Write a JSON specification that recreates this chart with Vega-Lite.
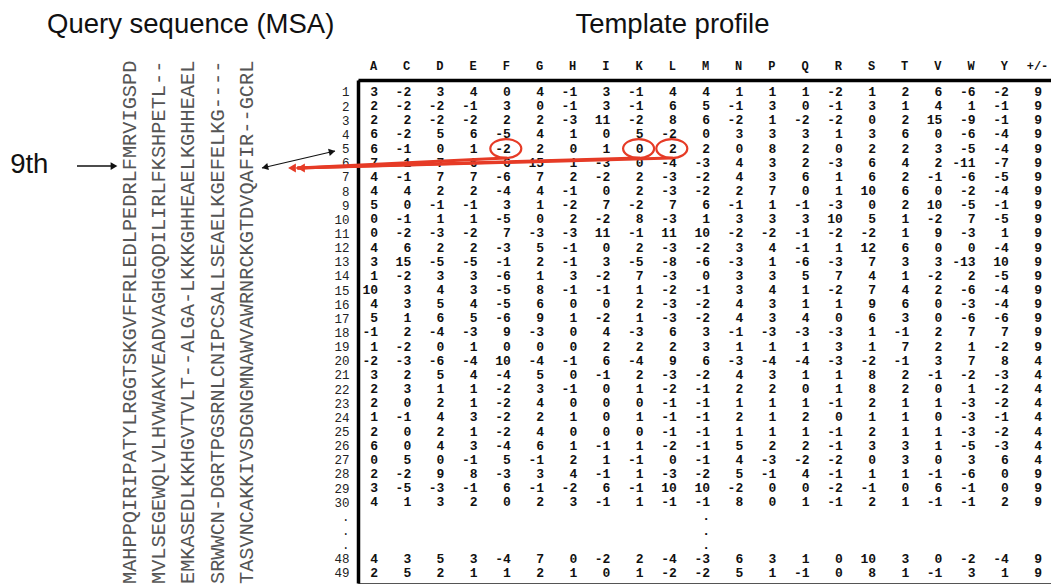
{
  "$schema": "https://vega.github.io/schema/vega-lite/v6.json",
  "width": 694,
  "height": 503,
  "autosize": {"type": "none"},
  "padding": {"left": 358, "top": 80, "right": 0, "bottom": 4},
  "background": "white",
  "config": {"view": {"stroke": "#555", "strokeWidth": 1}},
  "resolve": {"scale": {"x": "independent", "y": "independent"}, "axis": {"x": "independent", "y": "independent"}},
  "layer": [
    {
      "encoding": {
        "x": {
          "field": "aa", "type": "nominal",
          "scale": {"type": "point", "domain": ["A","C","D","E","F","G","H","I","K","L","M","N","P","Q","R","S","T","V","W","Y","pm"], "padding": 0.452, "align": 0.5},
          "axis": {"orient": "top", "title": null, "ticks": false, "tickSize": 0, "labelPadding": 8, "labelFont": "Liberation Mono", "labelFontSize": 12, "labelFontWeight": "bold", "labelColor": "#111", "labelAngle": 0, "domainColor": "#000", "domainWidth": 3.5, "grid": false, "labelExpr": "datum.value == 'pm' ? '+/-' : datum.value"}
        },
        "y": {
          "field": "r", "type": "nominal",
          "scale": {"type": "point", "domain": ["1","2","3","4","5","6","7","8","9","10","11","12","13","14","15","16","17","18","19","20","21","22","23","24","25","26","27","28","29","30","d1","d2","d3","48","49"], "padding": 0.777, "align": 0.545},
          "axis": {"orient": "left", "title": null, "ticks": false, "tickSize": 0, "labelPadding": 9, "labelFont": "Liberation Mono", "labelFontSize": 12.5, "labelColor": "#222", "domainColor": "#000", "domainWidth": 3.5, "grid": false, "labelExpr": "test(/^d/, datum.value) ? '.' : datum.value"}
        }
      },
      "layer": [
        {
          "data": {"values": [
            {"r":"1","A":3,"C":-2,"D":3,"E":4,"F":0,"G":4,"H":-1,"I":3,"K":-1,"L":4,"M":4,"N":1,"P":1,"Q":1,"R":-2,"S":1,"T":2,"V":6,"W":-6,"Y":-2,"pm":9},
            {"r":"2","A":2,"C":-2,"D":-2,"E":-1,"F":3,"G":0,"H":-1,"I":3,"K":-1,"L":6,"M":5,"N":-1,"P":3,"Q":0,"R":-1,"S":3,"T":1,"V":4,"W":1,"Y":-1,"pm":9},
            {"r":"3","A":2,"C":2,"D":-2,"E":-2,"F":2,"G":2,"H":-3,"I":11,"K":-2,"L":8,"M":6,"N":-2,"P":1,"Q":-2,"R":-2,"S":0,"T":2,"V":15,"W":-9,"Y":-1,"pm":9},
            {"r":"4","A":6,"C":-2,"D":5,"E":6,"F":-5,"G":4,"H":1,"I":0,"K":5,"L":-2,"M":0,"N":3,"P":3,"Q":3,"R":1,"S":3,"T":6,"V":0,"W":-6,"Y":-4,"pm":9},
            {"r":"5","A":6,"C":-1,"D":0,"E":1,"F":-2,"G":2,"H":0,"I":1,"K":0,"L":2,"M":2,"N":0,"P":8,"Q":2,"R":0,"S":2,"T":2,"V":3,"W":-5,"Y":-4,"pm":9},
            {"r":"6","A":7,"C":1,"D":7,"E":6,"F":-6,"G":15,"H":1,"I":-3,"K":0,"L":-4,"M":-3,"N":4,"P":3,"Q":2,"R":-3,"S":6,"T":4,"V":2,"W":-11,"Y":-7,"pm":9},
            {"r":"7","A":4,"C":-1,"D":7,"E":7,"F":-6,"G":7,"H":2,"I":-2,"K":2,"L":-3,"M":-2,"N":4,"P":3,"Q":6,"R":1,"S":6,"T":2,"V":-1,"W":-6,"Y":-5,"pm":9},
            {"r":"8","A":4,"C":4,"D":2,"E":2,"F":-4,"G":4,"H":-1,"I":0,"K":2,"L":-3,"M":-2,"N":2,"P":7,"Q":0,"R":1,"S":10,"T":6,"V":0,"W":-2,"Y":-4,"pm":9},
            {"r":"9","A":5,"C":0,"D":-1,"E":-1,"F":3,"G":1,"H":-2,"I":7,"K":-2,"L":7,"M":6,"N":-1,"P":1,"Q":-1,"R":-3,"S":0,"T":2,"V":10,"W":-5,"Y":-1,"pm":9},
            {"r":"10","A":0,"C":-1,"D":1,"E":1,"F":-5,"G":0,"H":2,"I":-2,"K":8,"L":-3,"M":1,"N":3,"P":3,"Q":3,"R":10,"S":5,"T":1,"V":-2,"W":7,"Y":-5,"pm":9},
            {"r":"11","A":0,"C":-2,"D":-3,"E":-2,"F":7,"G":-3,"H":-3,"I":11,"K":-1,"L":11,"M":10,"N":-2,"P":-2,"Q":-1,"R":-2,"S":-2,"T":1,"V":9,"W":-3,"Y":1,"pm":9},
            {"r":"12","A":4,"C":6,"D":2,"E":2,"F":-3,"G":5,"H":-1,"I":0,"K":2,"L":-3,"M":-2,"N":3,"P":4,"Q":-1,"R":1,"S":12,"T":6,"V":0,"W":0,"Y":-4,"pm":9},
            {"r":"13","A":3,"C":15,"D":-5,"E":-5,"F":-1,"G":2,"H":-1,"I":3,"K":-5,"L":-8,"M":-6,"N":-3,"P":1,"Q":-6,"R":-3,"S":7,"T":3,"V":3,"W":-13,"Y":10,"pm":9},
            {"r":"14","A":1,"C":-2,"D":3,"E":3,"F":-6,"G":1,"H":3,"I":-2,"K":7,"L":-3,"M":0,"N":3,"P":3,"Q":5,"R":7,"S":4,"T":1,"V":-2,"W":2,"Y":-5,"pm":9},
            {"r":"15","A":10,"C":3,"D":4,"E":3,"F":-5,"G":8,"H":-1,"I":-1,"K":1,"L":-2,"M":-1,"N":3,"P":4,"Q":1,"R":-2,"S":7,"T":4,"V":2,"W":-6,"Y":-4,"pm":9},
            {"r":"16","A":4,"C":3,"D":5,"E":4,"F":-5,"G":6,"H":0,"I":0,"K":2,"L":-3,"M":-2,"N":4,"P":3,"Q":1,"R":1,"S":9,"T":6,"V":0,"W":-3,"Y":-4,"pm":9},
            {"r":"17","A":5,"C":1,"D":6,"E":5,"F":-6,"G":9,"H":1,"I":-2,"K":1,"L":-3,"M":-2,"N":4,"P":3,"Q":4,"R":0,"S":6,"T":3,"V":0,"W":-6,"Y":-6,"pm":9},
            {"r":"18","A":-1,"C":2,"D":-4,"E":-3,"F":9,"G":-3,"H":0,"I":4,"K":-3,"L":6,"M":3,"N":-1,"P":-3,"Q":-3,"R":-3,"S":1,"T":-1,"V":2,"W":7,"Y":7,"pm":9},
            {"r":"19","A":1,"C":-2,"D":0,"E":1,"F":0,"G":0,"H":0,"I":2,"K":2,"L":2,"M":3,"N":1,"P":1,"Q":1,"R":3,"S":1,"T":7,"V":2,"W":1,"Y":-2,"pm":9},
            {"r":"20","A":-2,"C":-3,"D":-6,"E":-4,"F":10,"G":-4,"H":-1,"I":6,"K":-4,"L":9,"M":6,"N":-3,"P":-4,"Q":-4,"R":-3,"S":-2,"T":-1,"V":3,"W":7,"Y":8,"pm":4},
            {"r":"21","A":3,"C":2,"D":5,"E":4,"F":-4,"G":5,"H":0,"I":-1,"K":2,"L":-3,"M":-2,"N":4,"P":3,"Q":1,"R":1,"S":8,"T":2,"V":-1,"W":-2,"Y":-3,"pm":4},
            {"r":"22","A":2,"C":3,"D":1,"E":1,"F":-2,"G":3,"H":-1,"I":0,"K":1,"L":-2,"M":-1,"N":2,"P":2,"Q":0,"R":1,"S":8,"T":2,"V":0,"W":1,"Y":-2,"pm":4},
            {"r":"23","A":2,"C":0,"D":2,"E":1,"F":-2,"G":4,"H":0,"I":0,"K":0,"L":-1,"M":-1,"N":1,"P":1,"Q":1,"R":-1,"S":2,"T":1,"V":1,"W":-3,"Y":-2,"pm":4},
            {"r":"24","A":1,"C":-1,"D":4,"E":3,"F":-2,"G":2,"H":1,"I":0,"K":1,"L":-1,"M":-1,"N":2,"P":1,"Q":2,"R":0,"S":1,"T":1,"V":0,"W":-3,"Y":-1,"pm":4},
            {"r":"25","A":2,"C":0,"D":2,"E":1,"F":-2,"G":4,"H":0,"I":0,"K":0,"L":-1,"M":-1,"N":1,"P":1,"Q":1,"R":-1,"S":2,"T":1,"V":1,"W":-3,"Y":-2,"pm":4},
            {"r":"26","A":6,"C":0,"D":4,"E":3,"F":-4,"G":6,"H":1,"I":-1,"K":1,"L":-2,"M":-1,"N":5,"P":2,"Q":2,"R":-1,"S":3,"T":3,"V":1,"W":-5,"Y":-3,"pm":4},
            {"r":"27","A":0,"C":5,"D":0,"E":-1,"F":5,"G":-1,"H":2,"I":1,"K":-1,"L":0,"M":-1,"N":4,"P":-3,"Q":-2,"R":-2,"S":0,"T":3,"V":0,"W":3,"Y":6,"pm":4},
            {"r":"28","A":2,"C":-2,"D":9,"E":8,"F":-3,"G":3,"H":4,"I":-1,"K":1,"L":-3,"M":-2,"N":5,"P":-1,"Q":4,"R":-1,"S":1,"T":1,"V":-1,"W":-6,"Y":0,"pm":9},
            {"r":"29","A":3,"C":-5,"D":-3,"E":-1,"F":6,"G":-1,"H":-2,"I":6,"K":-1,"L":10,"M":10,"N":-2,"P":0,"Q":0,"R":-2,"S":-1,"T":0,"V":6,"W":-1,"Y":0,"pm":9},
            {"r":"30","A":4,"C":1,"D":3,"E":2,"F":0,"G":2,"H":3,"I":-1,"K":1,"L":-1,"M":-1,"N":8,"P":0,"Q":1,"R":-1,"S":2,"T":1,"V":-1,"W":-1,"Y":2,"pm":9},
            {"r":"d1","M":"."},
            {"r":"d2","M":"."},
            {"r":"d3","M":"."},
            {"r":"48","A":4,"C":3,"D":5,"E":3,"F":-4,"G":7,"H":0,"I":-2,"K":2,"L":-4,"M":-3,"N":6,"P":3,"Q":1,"R":0,"S":10,"T":3,"V":0,"W":-2,"Y":-4,"pm":9},
            {"r":"49","A":2,"C":5,"D":2,"E":1,"F":1,"G":2,"H":1,"I":0,"K":1,"L":-2,"M":-2,"N":5,"P":1,"Q":-1,"R":0,"S":8,"T":1,"V":-1,"W":3,"Y":1,"pm":9}
          ]},
          "transform": [
            {"fold": ["A","C","D","E","F","G","H","I","K","L","M","N","P","Q","R","S","T","V","W","Y","pm"], "as": ["aa", "v"]},
            {"filter": "isValid(datum.v)"}
          ],
          "mark": {"type": "text", "align": "right", "dx": 5, "baseline": "middle", "font": "Liberation Mono", "fontSize": 13, "fontWeight": "bold", "color": "#111"},
          "encoding": {"text": {"field": "v", "type": "nominal"}}
        },
        {
          "data": {"values": [{"r": "5", "aa": "F"}, {"r": "5", "aa": "K"}, {"r": "5", "aa": "L"}]},
          "mark": {"type": "point", "shape": "M-1,0A1,0.61,0,1,0,1,0A1,0.61,0,1,0,-1,0Z", "filled": false, "size": 961, "strokeWidth": 2.2, "color": "#e63b26", "opacity": 1}
        }
      ]
    },
    {
      "data": {"values": [
        {"line": 1, "seq": "MAHPPQIRIPATYLRGGTSKGVFFRLEDLPEDRLFMRVIGSPD"},
        {"line": 2, "seq": "MVLSEGEWQLVLHVWAKVEADVAGHGQDILIRLFKSHPETL--"},
        {"line": 3, "seq": "EMKASEDLKKHGVTVLT--ALGA-LKKKGHHEAELKGHHEAEL"},
        {"line": 4, "seq": "SRWWCN-DGRTPGSRNLCNIPCSALLSEAELKGEFELKG----"},
        {"line": 5, "seq": "TASVNCAKKIVSDGNGMNAWVAWRNRCKGTDVQAFIR--GCRL"}
      ]},
      "mark": {"type": "text", "angle": 270, "align": "left", "baseline": "middle", "font": "Liberation Mono", "fontSize": 20.3, "color": "#555"},
      "encoding": {
        "x": {"field": "line", "type": "quantitative", "scale": {"domain": [8.795, 32.521], "nice": false, "zero": false}, "axis": null},
        "y": {"datum": 35.78, "type": "quantitative", "scale": {"domain": [0.1518, 35.707], "nice": false, "zero": false, "reverse": true}, "axis": null},
        "text": {"field": "seq", "type": "nominal"}
      }
    },
    {
      "data": {"values": [{}]},
      "layer": [
        {
          "mark": {"type": "text", "font": "Liberation Sans", "fontSize": 27.5, "align": "left", "baseline": "alphabetic", "color": "#111"},
          "encoding": {
            "x": {"datum": -8.819, "type": "quantitative", "scale": {"domain": [0.5482, 21.452], "nice": false, "zero": false}, "axis": null},
            "y": {"datum": -3.17, "type": "quantitative", "scale": {"domain": [0.1518, 35.707], "nice": false, "zero": false, "reverse": true}, "axis": null},
            "text": {"value": "Query sequence (MSA)"}
          }
        },
        {
          "mark": {"type": "text", "font": "Liberation Sans", "fontSize": 27.5, "align": "center", "baseline": "alphabetic", "color": "#111"},
          "encoding": {
            "x": {"datum": 10.02, "type": "quantitative", "scale": {"domain": [0.5482, 21.452], "nice": false, "zero": false}, "axis": null},
            "y": {"datum": -3.17, "type": "quantitative", "scale": {"domain": [0.1518, 35.707], "nice": false, "zero": false, "reverse": true}, "axis": null},
            "text": {"value": "Template profile"}
          }
        },
        {
          "mark": {"type": "text", "font": "Liberation Sans", "fontSize": 27.5, "align": "left", "baseline": "alphabetic", "color": "#111"},
          "encoding": {
            "x": {"datum": -9.93, "type": "quantitative", "scale": {"domain": [0.5482, 21.452], "nice": false, "zero": false}, "axis": null},
            "y": {"datum": 6.726, "type": "quantitative", "scale": {"domain": [0.1518, 35.707], "nice": false, "zero": false, "reverse": true}, "axis": null},
            "text": {"value": "9th"}
          }
        },
        {
          "mark": {"type": "rule", "color": "#111", "strokeWidth": 1.3},
          "encoding": {
            "x": {"datum": -7.916, "type": "quantitative", "scale": {"domain": [0.5482, 21.452], "nice": false, "zero": false}, "axis": null},
            "y": {"datum": 6.231, "type": "quantitative", "scale": {"domain": [0.1518, 35.707], "nice": false, "zero": false, "reverse": true}, "axis": null},
            "x2": {"datum": -6.86},
            "y2": {"datum": 6.231}
          }
        },
        {
          "mark": {"type": "point", "shape": "triangle-right", "filled": true, "opacity": 1, "color": "#111", "size": 60},
          "encoding": {
            "x": {"datum": -6.801, "type": "quantitative", "scale": {"domain": [0.5482, 21.452], "nice": false, "zero": false}, "axis": null},
            "y": {"datum": 6.231, "type": "quantitative", "scale": {"domain": [0.1518, 35.707], "nice": false, "zero": false, "reverse": true}, "axis": null}
          }
        },
        {
          "mark": {"type": "rule", "color": "#111", "strokeWidth": 1.2},
          "encoding": {
            "x": {"datum": -2.343, "type": "quantitative", "scale": {"domain": [0.5482, 21.452], "nice": false, "zero": false}, "axis": null},
            "y": {"datum": 6.372, "type": "quantitative", "scale": {"domain": [0.1518, 35.707], "nice": false, "zero": false, "reverse": true}, "axis": null},
            "x2": {"datum": -0.1446},
            "y2": {"datum": 5.17}
          }
        },
        {
          "mark": {"type": "point", "shape": "triangle", "angle": 257, "filled": true, "opacity": 1, "color": "#111", "size": 55},
          "encoding": {
            "x": {"datum": -2.223, "type": "quantitative", "scale": {"domain": [0.5482, 21.452], "nice": false, "zero": false}, "axis": null},
            "y": {"datum": 6.301, "type": "quantitative", "scale": {"domain": [0.1518, 35.707], "nice": false, "zero": false, "reverse": true}, "axis": null}
          }
        },
        {
          "mark": {"type": "point", "shape": "triangle", "angle": 77, "filled": true, "opacity": 1, "color": "#111", "size": 55},
          "encoding": {
            "x": {"datum": -0.265, "type": "quantitative", "scale": {"domain": [0.5482, 21.452], "nice": false, "zero": false}, "axis": null},
            "y": {"datum": 5.241, "type": "quantitative", "scale": {"domain": [0.1518, 35.707], "nice": false, "zero": false, "reverse": true}, "axis": null}
          }
        },
        {
          "mark": {"type": "rule", "color": "#e63b26", "strokeWidth": 3, "strokeCap": "round"},
          "encoding": {
            "x": {"datum": 5.006, "type": "quantitative", "scale": {"domain": [0.5482, 21.452], "nice": false, "zero": false}, "axis": null},
            "y": {"datum": 5.665, "type": "quantitative", "scale": {"domain": [0.1518, 35.707], "nice": false, "zero": false, "reverse": true}, "axis": null},
            "x2": {"datum": -1.259},
            "y2": {"datum": 6.372}
          }
        },
        {
          "mark": {"type": "rule", "color": "#e63b26", "strokeWidth": 3, "strokeCap": "round"},
          "encoding": {
            "x": {"datum": 9.012, "type": "quantitative", "scale": {"domain": [0.5482, 21.452], "nice": false, "zero": false}, "axis": null},
            "y": {"datum": 5.665, "type": "quantitative", "scale": {"domain": [0.1518, 35.707], "nice": false, "zero": false, "reverse": true}, "axis": null},
            "x2": {"datum": -1.259},
            "y2": {"datum": 6.372}
          }
        },
        {
          "mark": {"type": "rule", "color": "#e63b26", "strokeWidth": 3, "strokeCap": "round"},
          "encoding": {
            "x": {"datum": 10.006, "type": "quantitative", "scale": {"domain": [0.5482, 21.452], "nice": false, "zero": false}, "axis": null},
            "y": {"datum": 5.665, "type": "quantitative", "scale": {"domain": [0.1518, 35.707], "nice": false, "zero": false, "reverse": true}, "axis": null},
            "x2": {"datum": -1.259},
            "y2": {"datum": 6.372}
          }
        },
        {
          "mark": {"type": "point", "shape": "triangle-left", "filled": true, "opacity": 1, "color": "#e63b26", "size": 80},
          "encoding": {
            "x": {"datum": -1.44, "type": "quantitative", "scale": {"domain": [0.5482, 21.452], "nice": false, "zero": false}, "axis": null},
            "y": {"datum": 6.372, "type": "quantitative", "scale": {"domain": [0.1518, 35.707], "nice": false, "zero": false, "reverse": true}, "axis": null}
          }
        },
        {
          "mark": {"type": "point", "shape": "triangle-left", "filled": true, "opacity": 1, "color": "#e63b26", "size": 80},
          "encoding": {
            "x": {"datum": -1.169, "type": "quantitative", "scale": {"domain": [0.5482, 21.452], "nice": false, "zero": false}, "axis": null},
            "y": {"datum": 6.372, "type": "quantitative", "scale": {"domain": [0.1518, 35.707], "nice": false, "zero": false, "reverse": true}, "axis": null}
          }
        }
      ]
    }
  ]
}
